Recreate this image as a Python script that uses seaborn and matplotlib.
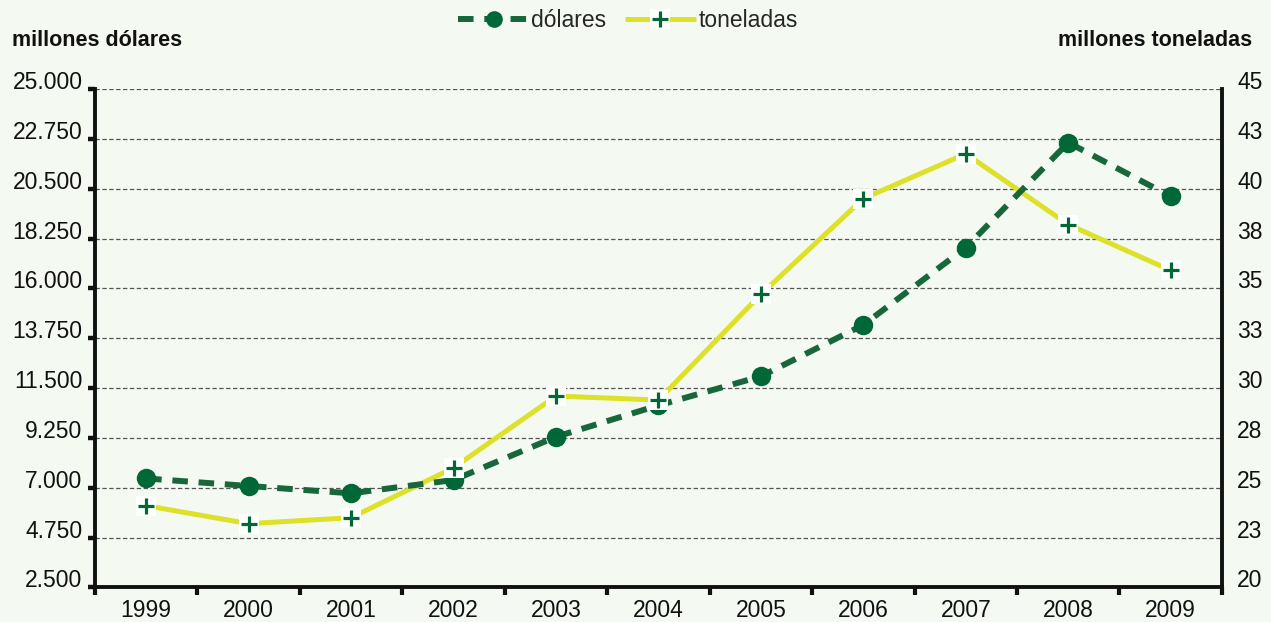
import matplotlib
matplotlib.use("Agg")
import matplotlib.pyplot as plt
import seaborn as sns
from matplotlib import font_manager
from matplotlib.lines import Line2D
from matplotlib.ticker import FixedLocator, FixedFormatter

# ---- data -------------------------------------------------------------
years = ["1999", "2000", "2001", "2002", "2003", "2004",
         "2005", "2006", "2007", "2008", "2009"]
dolares = [7420, 7080, 6750, 7350, 9300, 10720, 12030, 14350, 17840, 22580, 20150]
toneladas = [24.1, 23.2, 23.5, 26.0, 29.6, 29.4, 34.7, 39.5, 41.75, 38.2, 35.9]

dolares_ticks = [2500, 4750, 7000, 9250, 11500, 13750, 16000, 18250, 20500, 22750, 25000]
dolares_labels = ["2.500", "4.750", "7.000", "9.250", "11.500", "13.750",
                  "16.000", "18.250", "20.500", "22.750", "25.000"]
toneladas_ticks = [20, 22.5, 25, 27.5, 30, 32.5, 35, 37.5, 40, 42.5, 45]
toneladas_labels = ["20", "23", "25", "28", "30", "33", "35", "38", "40", "43", "45"]

# ---- style ------------------------------------------------------------
BG = "#f4f9f1"
GREEN = "#006837"
GREEN_LINE = "#17673a"
YELLOW = "#dde12a"
INK = "#111111"

sns.set_style("white", rc={"axes.facecolor": BG, "figure.facecolor": BG})
available = {f.name for f in font_manager.fontManager.ttflist}
narrow = "Liberation Sans Narrow" in available
base_font = "Liberation Sans Narrow" if narrow else "Liberation Sans"
plt.rcParams["font.family"] = [base_font, "DejaVu Sans"]

TICK_FS = 18.5 if narrow else 16.5
TITLE_FS = 17.5 if narrow else 15.5
DASH = (0, (2.6, 1.8))

fig = plt.figure(figsize=(12.71, 6.22), dpi=100)
fig.patch.set_facecolor(BG)

rect = [0.0747, 0.0555, 0.8867, 0.8015]
ax = fig.add_axes(rect)          # left scale: dollars
ax2 = ax.twinx()                 # right scale: tonnes (line + grid)
ax3 = ax.twinx()                 # right scale: tonnes markers on top

ax2.set_zorder(1)
ax.set_zorder(2)
ax3.set_zorder(3)
ax2.patch.set_visible(True)
ax2.patch.set_facecolor(BG)
ax.patch.set_visible(False)
ax3.patch.set_visible(False)

xpos = list(range(len(years)))

# tonnes line (below the dollar series)
sns.lineplot(x=xpos, y=toneladas, ax=ax2, color=YELLOW, linewidth=3.6,
             solid_capstyle="butt", legend=False)

# dollars: dashed line with round markers
sns.lineplot(x=xpos, y=dolares, ax=ax, color=GREEN_LINE, linewidth=4.3,
             linestyle=DASH, marker="o", markersize=14,
             markerfacecolor=GREEN, markeredgecolor=GREEN, markeredgewidth=0,
             legend=False)

# tonnes markers: green cross on a white square
sns.lineplot(x=xpos, y=toneladas, ax=ax3, linestyle="none", marker="s",
             markersize=15, markerfacecolor="white", markeredgecolor="white",
             markeredgewidth=0, legend=False)
sns.lineplot(x=xpos, y=toneladas, ax=ax3, linestyle="none", marker="+",
             markersize=12, markeredgecolor=GREEN, markeredgewidth=2.3,
             color=GREEN, legend=False)

# ---- axes limits / ticks ---------------------------------------------
ax.set_xlim(-0.5, len(years) - 0.5)
ax.set_ylim(dolares_ticks[0], dolares_ticks[-1])
for a in (ax2, ax3):
    a.set_ylim(toneladas_ticks[0], toneladas_ticks[-1])

ax.xaxis.set_major_locator(FixedLocator(xpos))
ax.xaxis.set_major_formatter(FixedFormatter(years))
ax.xaxis.set_minor_locator(FixedLocator([p - 0.5 for p in xpos] + [xpos[-1] + 0.5]))
ax.tick_params(axis="x", which="major", bottom=True, labelbottom=True,
               length=0, pad=8, labelsize=TICK_FS, colors=INK)
ax.tick_params(axis="x", which="minor", bottom=True, length=6, width=3,
               direction="out", color=INK)

ax.yaxis.set_major_locator(FixedLocator(dolares_ticks))
ax.yaxis.set_major_formatter(FixedFormatter(dolares_labels))
ax.tick_params(axis="y", which="major", left=True, length=5, width=3.2,
               direction="out", pad=4, labelsize=TICK_FS, colors=INK)

ax2.yaxis.set_major_locator(FixedLocator(toneladas_ticks))
ax2.yaxis.set_major_formatter(FixedFormatter(toneladas_labels))
ax2.tick_params(axis="y", which="major", length=0, pad=11, labelsize=TICK_FS, colors=INK)
ax2.grid(True, axis="y", color="#555555", linewidth=0.9, linestyle=(0, (3.5, 2)))
ax2.set_axisbelow(True)

ax3.tick_params(axis="y", right=False, labelright=False)

for a in (ax, ax2, ax3):
    a.set_xlabel("")
    a.set_ylabel("")
    for s in a.spines.values():
        s.set_visible(False)

for side in ("left", "bottom"):
    ax.spines[side].set_visible(True)
    ax.spines[side].set_linewidth(2.8)
    ax.spines[side].set_color(INK)
ax2.spines["right"].set_visible(True)
ax2.spines["right"].set_linewidth(2.8)
ax2.spines["right"].set_color(INK)

for lab in ax.get_yticklabels() + ax2.get_yticklabels():
    lab.set_verticalalignment("baseline")

# ---- axis titles ------------------------------------------------------
fig.text(12 / 1271, 1 - 40 / 622, "millones dólares", fontsize=TITLE_FS,
         fontweight="bold", color=INK, ha="left", va="center")
fig.text(1252 / 1271, 1 - 40 / 622, "millones toneladas", fontsize=TITLE_FS,
         fontweight="bold", color=INK, ha="right", va="center")

# ---- legend -----------------------------------------------------------
h_dol = Line2D([], [], color=GREEN_LINE, linewidth=4.3, linestyle=DASH,
               marker="o", markersize=12, markerfacecolor=GREEN,
               markeredgecolor=GREEN, markeredgewidth=0)
h_ton = (Line2D([], [], color=YELLOW, linewidth=3.6, solid_capstyle="butt"),
         Line2D([], [], linestyle="none", marker="s", markersize=14,
                markerfacecolor="white", markeredgecolor="white", markeredgewidth=0),
         Line2D([], [], linestyle="none", marker="+", markersize=12,
                markeredgecolor=GREEN, markeredgewidth=2.3))
fig.legend([h_dol, h_ton], ["dólares", "toneladas"], loc="center",
           bbox_to_anchor=(0.494, 0.967), ncol=2, frameon=False,
           handlelength=3.1, handletextpad=0.1, columnspacing=0.8,
           fontsize=TICK_FS, numpoints=1)

fig.savefig("out.png", dpi=100, facecolor=BG)
